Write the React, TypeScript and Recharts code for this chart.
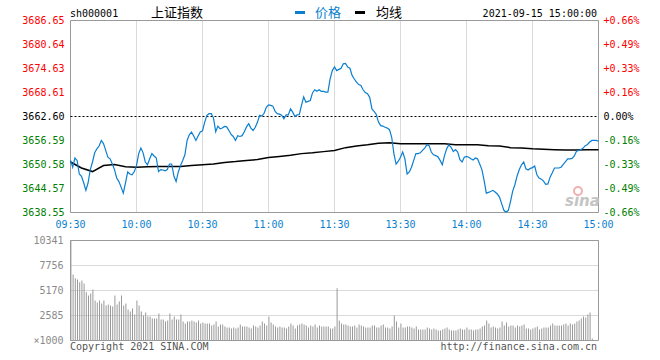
import { ComposedChart, Line, Bar, XAxis, YAxis, CartesianGrid, ReferenceLine, ReferenceArea } from 'recharts';

// minute index: 0 = 09:30 ... 120 = 11:30, 121 = 13:01 ... 240 = 15:00
const PRICE = [
  3651.6, 3649.9, 3652.2, 3651.6, 3648.2, 3647.6, 3646.0, 3644.1, 3646.0, 3649.3,
  3651.2, 3653.5, 3654.5, 3655.2, 3656.6, 3655.8, 3654.1, 3652.4, 3652.0, 3650.7,
  3649.3, 3647.2, 3646.3, 3644.9, 3643.4, 3646.0, 3648.7, 3648.2, 3648.0, 3648.8,
  3650.3, 3653.3, 3654.7, 3653.5, 3651.2, 3650.5, 3652.0, 3653.3, 3652.7, 3652.2,
  3648.8, 3649.3, 3649.2, 3649.0, 3649.3, 3650.7, 3650.7, 3647.7, 3646.3, 3648.7,
  3650.3, 3651.6, 3653.0, 3656.6, 3658.0, 3658.7, 3657.7, 3656.6, 3657.7, 3658.7,
  3659.0, 3661.2, 3662.9, 3663.3, 3663.3, 3662.2, 3658.8, 3660.2, 3659.5, 3659.7,
  3660.1, 3660.0, 3659.1, 3658.1, 3657.6, 3656.6, 3657.8, 3657.6, 3657.8, 3658.8,
  3660.0, 3660.8, 3659.7, 3659.1, 3659.9, 3661.2, 3662.9, 3662.7, 3663.4, 3664.9,
  3665.5, 3665.4, 3665.2, 3663.9, 3663.3, 3663.2, 3662.9, 3662.0, 3663.0, 3663.0,
  3664.5, 3663.7, 3662.6, 3663.0, 3663.1, 3665.4, 3667.5, 3666.2, 3666.4, 3666.6,
  3668.5, 3669.3, 3668.9, 3669.3, 3668.9, 3668.9, 3668.7, 3668.7, 3672.0, 3674.1,
  3675.0, 3674.1, 3674.4, 3674.7, 3675.8, 3675.9, 3675.0, 3674.7, 3672.9, 3672.0,
  3671.2, 3670.6, 3670.4, 3669.3, 3668.6, 3668.3, 3667.4, 3664.5, 3663.9, 3663.1,
  3661.2, 3660.3, 3660.2, 3659.9, 3659.7, 3659.3, 3657.4, 3653.3, 3650.7, 3651.4,
  3652.4, 3653.7, 3652.0, 3648.2, 3648.7, 3649.9, 3651.6, 3653.3, 3653.3, 3653.5,
  3654.1, 3654.7, 3655.5, 3655.3, 3653.7, 3653.0, 3652.8, 3652.5, 3651.6, 3650.5,
  3652.8, 3654.5, 3655.5, 3654.9, 3653.8, 3654.3, 3653.7, 3651.8, 3651.2, 3652.4,
  3652.6, 3652.4, 3652.0, 3651.7, 3652.2, 3652.0, 3650.7, 3649.3, 3646.6, 3643.4,
  3643.6, 3643.8, 3644.1, 3643.7, 3643.2, 3642.4, 3640.7, 3639.1, 3638.6, 3639.1,
  3641.3, 3643.9, 3645.5, 3647.7, 3649.3, 3650.5, 3651.2, 3649.5, 3649.2, 3649.6,
  3649.8, 3650.2, 3648.0, 3647.2, 3646.9, 3646.4, 3645.6, 3645.7, 3647.4, 3648.5,
  3649.7, 3649.7, 3649.7, 3649.9, 3650.6, 3651.3, 3652.0, 3652.0, 3652.1, 3652.7,
  3653.9, 3654.1, 3654.3, 3654.7, 3655.3, 3655.6, 3656.2, 3656.6, 3656.6, 3656.6,
  3656.4,
];

// average line, read every 5 minutes
const AVG_5MIN = [
  3651.2, 3649.7, 3648.8, 3650.3, 3650.6, 3650.0, 3649.9, 3650.0, 3650.1, 3650.1,
  3650.1, 3650.3, 3650.5, 3650.7, 3651.1, 3651.3, 3651.6, 3651.8, 3652.3, 3652.6,
  3652.9, 3653.3, 3653.5, 3653.8, 3654.1, 3654.8, 3655.2, 3655.5, 3655.9, 3656.0,
  3655.8, 3655.8, 3655.8, 3655.8, 3655.8, 3655.5, 3655.5, 3655.5, 3655.3, 3655.2,
  3654.8, 3654.7, 3654.5, 3654.4, 3654.3, 3654.2, 3654.2, 3654.3, 3654.3,
];

// volume (x1000)
const VOLUME = [
  10341, 6825, 6446, 6308, 6032, 6205, 5894, 4998, 4653, 4860,
  5274, 4136, 3930, 4136, 3826, 4136, 3619, 3723, 3619, 3516,
  4653, 3723, 4033, 4653, 3619, 3826, 3206, 2999, 3309, 2689,
  4136, 3619, 2999, 2585, 2895, 2482, 2482, 2275, 2275, 2275,
  2792, 2172, 2172, 1965, 2068, 2792, 2172, 2482, 2172, 2172,
  2689, 1965, 1758, 1965, 1965, 2068, 1965, 1861, 2068, 1758,
  1861, 1758, 1758, 1758, 1551, 1655, 1965, 1448, 1655, 1655,
  1448, 1344, 1344, 1241, 1344, 1241, 1344, 1655, 1448, 1448,
  1448, 1344, 1241, 1551, 1448, 1344, 1551, 1965, 1758, 1551,
  2482, 1861, 1655, 1448, 1344, 1448, 1344, 1344, 1241, 1448,
  1758, 1551, 1241, 1551, 1655, 1758, 1655, 1551, 1344, 1551,
  1448, 1655, 1344, 1551, 1448, 1448, 1448, 1448, 1241, 1241,
  1448, 5412, 2068, 1758, 1655, 1655, 1551, 1448, 1448, 1551,
  1344, 1655, 1551, 1448, 1344, 1344, 1344, 1551, 1551, 1344,
  1344, 1551, 1655, 1344, 1344, 1241, 1448, 2585, 1965, 1344,
  1758, 1344, 1344, 1448, 1448, 1344, 1241, 1448, 1138, 1138,
  1138, 1138, 1344, 1241, 1138, 1241, 1138, 1034, 1034, 1138,
  1241, 1344, 1138, 1034, 1034, 1034, 1138, 1241, 1138, 1138,
  1344, 1138, 1138, 1034, 1138, 1138, 1241, 1448, 1551, 2068,
  1758, 1344, 1448, 1344, 1241, 1344, 1965, 1551, 1861, 1448,
  1551, 1551, 1344, 1551, 1448, 1551, 1655, 1241, 1241, 1138,
  1241, 1344, 1448, 1138, 1241, 1344, 1344, 1344, 1551, 1758,
  1551, 1551, 1551, 1551, 1655, 1758, 1551, 1758, 1655, 1758,
  1965, 2068, 2275, 2482, 2378, 2689, 2895, 207, 0, 0,
  0,
];

const TIME_TICKS = [0, 30, 60, 90, 120, 150, 180, 210, 240];
const TIME_LABELS = ['09:30', '10:00', '10:30', '11:00', '11:30', '13:30', '14:00', '14:30', '15:00'];

const PREV_CLOSE = 3662.6;
const PRICE_TICKS = [3638.55, 3644.57, 3650.58, 3656.59, 3662.6, 3668.61, 3674.63, 3680.64, 3686.65];
const PRICE_LABELS = ['3638.55', '3644.57', '3650.58', '3656.59', '3662.60', '3668.61', '3674.63', '3680.64', '3686.65'];
const PCT_LABELS = ['-0.66%', '-0.49%', '-0.33%', '-0.16%', '0.00%', '+0.16%', '+0.33%', '+0.49%', '+0.66%'];

const VOL_TICKS = [0, 2585, 5170, 7756, 10341];
const VOL_LABELS = ['×1000', '2585', '5170', '7756', '10341'];

const MONO = '"DejaVu Sans Mono", "Liberation Mono", monospace';
const CJK = '"Noto Sans CJK SC", sans-serif';
const BLUE = '#0a7fd0';
const GRID = '#b4b4b4';
const BORDER = '#9a9a9a';

const rows = PRICE.map((p, i) => ({
  i,
  price: p,
  avg: i % 5 === 0 ? AVG_5MIN[i / 5] : null,
  vol: VOLUME[i],
}));

function levelColor(k: number) {
  if (k < 4) return '#008000';
  if (k === 4) return '#000000';
  return '#ff0000';
}

const PriceTick = (props: any) => {
  const k = PRICE_TICKS.indexOf(props.payload.value);
  return (
    <text x={props.x} y={props.y} dy="0.355em" textAnchor="end" fontFamily={MONO} fontSize={10} fill={levelColor(k)}>
      {PRICE_LABELS[k]}
    </text>
  );
};

const PctTick = (props: any) => {
  const k = PRICE_TICKS.indexOf(props.payload.value);
  return (
    <text x={props.x} y={props.y} dy="0.355em" textAnchor="start" fontFamily={MONO} fontSize={10} fill={levelColor(k)}>
      {PCT_LABELS[k]}
    </text>
  );
};

const TimeTick = (props: any) => {
  const k = TIME_TICKS.indexOf(props.payload.value);
  return (
    <text x={props.x} y={props.y} dy="0.71em" textAnchor="middle" fontFamily={MONO} fontSize={10} fill={BLUE}>
      {TIME_LABELS[k]}
    </text>
  );
};

const VolTick = (props: any) => {
  const k = VOL_TICKS.indexOf(props.payload.value);
  return (
    <text x={props.x} y={props.y} dy="0.355em" textAnchor="end" fontFamily={MONO} fontSize={10} fill="#8a8a8a">
      {VOL_LABELS[k]}
    </text>
  );
};

export default function App() {
  return (
    <div style={{ position: 'absolute', left: 0, top: 0, width: 660, height: 360, background: '#fff' }}>
      <div style={{ position: 'absolute', left: 0, top: 0 }}>
        <ComposedChart width={660} height={233} data={rows} margin={{ top: 20.5, right: 0, bottom: 0, left: 0 }}>
          <CartesianGrid stroke={GRID} strokeDasharray="1 1" />
          <XAxis
            dataKey="i"
            type="number"
            domain={[0, 240]}
            ticks={TIME_TICKS}
            tick={<TimeTick />}
            axisLine={false}
            tickLine={false}
            tickSize={6}
            tickMargin={2}
            height={20.5}
          />
          <YAxis
            yAxisId="left"
            domain={[3638.55, 3686.65]}
            ticks={PRICE_TICKS}
            tick={<PriceTick />}
            axisLine={false}
            tickLine={false}
            tickSize={4}
            tickMargin={2}
            width={70.5}
            allowDataOverflow
          />
          <YAxis
            yAxisId="right"
            orientation="right"
            domain={[3638.55, 3686.65]}
            ticks={PRICE_TICKS}
            tick={<PctTick />}
            axisLine={false}
            tickLine={false}
            tickSize={3}
            tickMargin={2}
            width={61.5}
            allowDataOverflow
          />
          <ReferenceArea yAxisId="left" x1={0} x2={240} y1={3638.55} y2={3686.65} fill="none" stroke={BORDER} strokeWidth={1} />
          <ReferenceLine yAxisId="left" y={PREV_CLOSE} stroke="#000" strokeDasharray="2 2" />
          <Line
            yAxisId="right"
            dataKey="avg"
            type="linear"
            stroke="#000"
            strokeWidth={1.5}
            dot={false}
            activeDot={false}
            connectNulls
            isAnimationActive={false}
          />
          <Line
            yAxisId="left"
            dataKey="price"
            type="linear"
            stroke={BLUE}
            strokeWidth={1.2}
            dot={false}
            activeDot={false}
            isAnimationActive={false}
          />
        </ComposedChart>
      </div>
      <div style={{ position: 'absolute', left: 0, top: 230 }}>
        <ComposedChart width={660} height={130} data={rows} margin={{ top: 10.5, right: 61.5, bottom: 19.5, left: 0 }}>
          <CartesianGrid stroke={GRID} strokeDasharray="1 1" />
          <XAxis dataKey="i" type="number" domain={[0, 240]} ticks={TIME_TICKS} tick={false} axisLine={false} tickLine={false} height={0} />
          <YAxis
            domain={[0, 10341]}
            ticks={VOL_TICKS}
            tick={<VolTick />}
            axisLine={false}
            tickLine={false}
            tickSize={5}
            tickMargin={2}
            width={70.5}
          />
          <ReferenceArea x1={0} x2={240} y1={0} y2={10341} fill="none" stroke={BORDER} strokeWidth={1} />
          <Bar dataKey="vol" fill="#999" barSize={1} isAnimationActive={false} />
        </ComposedChart>
      </div>
      <svg width={660} height={360} style={{ position: 'absolute', left: 0, top: 0, pointerEvents: 'none' }}>
        <text x={70} y={16.5} fontFamily={MONO} fontSize={10} fill="#000">sh000001</text>
        <text x={151} y={17} fontFamily={CJK} fontSize={13} fill="#000">上证指数</text>
        <rect x={295} y={11} width={10} height={3} fill={BLUE} />
        <text x={315} y={17} fontFamily={CJK} fontSize={13} fill={BLUE}>价格</text>
        <rect x={355} y={11} width={10} height={3} fill="#000" />
        <text x={376} y={17} fontFamily={CJK} fontSize={13} fill="#000">均线</text>
        <text x={597} y={16.5} textAnchor="end" fontFamily={MONO} fontSize={10} fill="#000">2021-09-15 15:00:00</text>
        <text x={565} y={206} fontFamily="Verdana, DejaVu Sans, sans-serif" fontStyle="italic" fontWeight="bold" fontSize={15} fill="#c4c4c4">sina</text>
        <circle cx={578} cy={191} r={4} fill="none" stroke="#f0b0b0" strokeWidth={2} />
        <text x={70} y={349.5} fontFamily={MONO} fontSize={10} fill="#555">Copyright 2021 SINA.COM</text>
        <text x={597} y={349.5} textAnchor="end" fontFamily={MONO} fontSize={10} fill="#555">http://finance.sina.com.cn</text>
      </svg>
    </div>
  );
}
